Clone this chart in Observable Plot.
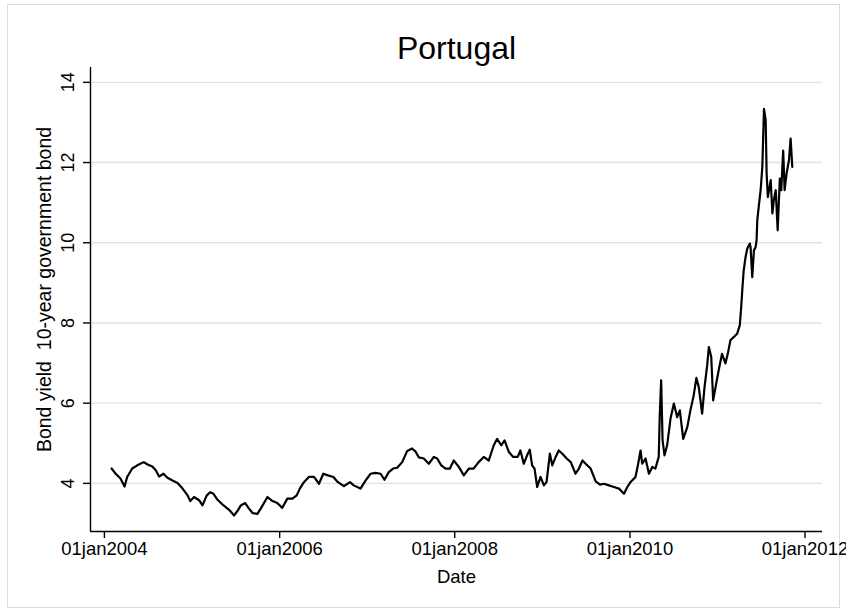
<!DOCTYPE html>
<html>
<head>
<meta charset="utf-8">
<script src="https://cdn.jsdelivr.net/npm/d3@7"></script>
<script src="https://cdn.jsdelivr.net/npm/@observablehq/plot@0.6"></script>
<style>
  html, body { margin: 0; padding: 0; background: #fff; overflow: hidden; }
  #chart { width: 846px; height: 613px; }
</style>
</head>
<body>
<div id="chart"></div>
<script>
const chartTitle = "Portugal";
const yAxisLabel = "Bond yield\u00a0 10-year government bond";
const xAxisLabel = "Date";

const dates = [
  "2004-01-31","2004-02-17","2004-03-08","2004-03-25","2004-04-05","2004-04-26","2004-05-17","2004-06-13",
  "2004-06-29","2004-07-19","2004-08-03","2004-08-16","2004-09-03","2004-09-20","2004-10-11","2004-11-01",
  "2004-11-22","2004-12-13","2004-12-24","2005-01-09","2005-01-30","2005-02-13","2005-03-03","2005-03-17",
  "2005-03-31","2005-04-17","2005-05-12","2005-06-04","2005-06-25","2005-07-11","2005-07-23","2005-08-10",
  "2005-08-26","2005-09-10","2005-09-30","2005-10-14","2005-11-11","2005-12-02","2005-12-22","2006-01-12",
  "2006-02-02","2006-02-23","2006-03-13","2006-03-26","2006-04-12","2006-05-03","2006-05-24","2006-06-14",
  "2006-07-02","2006-07-21","2006-08-13","2006-09-01","2006-09-26","2006-10-21","2006-11-06","2006-12-04",
  "2006-12-25","2007-01-15","2007-02-05","2007-02-26","2007-03-14","2007-04-01","2007-04-19","2007-05-06",
  "2007-05-27","2007-06-17","2007-07-07","2007-07-21","2007-08-04","2007-08-25","2007-09-15","2007-10-06",
  "2007-10-20","2007-11-06","2007-11-24","2007-12-12","2007-12-28","2008-01-18","2008-02-08","2008-02-29",
  "2008-03-20","2008-04-10","2008-05-01","2008-05-22","2008-06-12","2008-06-26","2008-07-13","2008-07-27",
  "2008-08-14","2008-09-01","2008-09-20","2008-10-01","2008-10-15","2008-10-29","2008-11-09","2008-11-19",
  "2008-11-29","2008-12-10","2008-12-24","2009-01-07","2009-01-18","2009-02-01","2009-02-11","2009-02-25",
  "2009-03-10","2009-03-25","2009-04-12","2009-04-29","2009-05-19","2009-06-02","2009-06-17","2009-06-30",
  "2009-07-21","2009-08-11","2009-08-29","2009-09-15","2009-10-05","2009-10-26","2009-11-16","2009-12-07",
  "2009-12-21","2010-01-03","2010-01-24","2010-02-03","2010-02-14","2010-02-21","2010-03-07","2010-03-21",
  "2010-04-04","2010-04-17","2010-05-01","2010-05-05","2010-05-11","2010-05-17","2010-05-25","2010-06-05",
  "2010-06-19","2010-07-03","2010-07-17","2010-07-28","2010-08-11","2010-08-28","2010-09-10","2010-09-24",
  "2010-10-05","2010-10-15","2010-10-29","2010-11-08","2010-11-19","2010-11-26","2010-12-06","2010-12-14",
  "2010-12-24","2011-01-06","2011-01-20","2011-02-03","2011-02-13","2011-02-24","2011-03-10","2011-03-24",
  "2011-04-04","2011-04-10","2011-04-14","2011-04-20","2011-04-28","2011-05-05","2011-05-16","2011-05-19",
  "2011-05-26","2011-06-02","2011-06-09","2011-06-13","2011-06-16","2011-06-23","2011-06-30","2011-07-07",
  "2011-07-14","2011-07-21","2011-07-25","2011-07-30","2011-08-11","2011-08-18","2011-08-24","2011-09-01",
  "2011-09-09","2011-09-18","2011-09-24","2011-10-02","2011-10-08","2011-10-16","2011-10-26","2011-11-02",
  "2011-11-09"
];

const yields = [
  4.37,4.24,4.12,3.92,4.16,4.37,4.45,4.53,
  4.47,4.42,4.32,4.17,4.24,4.14,4.07,4.01,
  3.87,3.70,3.56,3.66,3.58,3.45,3.70,3.78,
  3.74,3.59,3.45,3.34,3.20,3.33,3.45,3.51,
  3.37,3.26,3.24,3.37,3.66,3.56,3.51,3.39,
  3.62,3.62,3.70,3.87,4.03,4.16,4.16,3.99,
  4.24,4.20,4.16,4.03,3.93,4.03,3.95,3.87,
  4.07,4.24,4.26,4.24,4.09,4.28,4.37,4.39,
  4.53,4.81,4.87,4.80,4.65,4.62,4.49,4.66,
  4.62,4.45,4.37,4.37,4.57,4.41,4.20,4.37,
  4.37,4.53,4.66,4.57,4.95,5.11,4.95,5.07,
  4.78,4.66,4.66,4.82,4.49,4.70,4.84,4.45,
  4.37,3.91,4.16,3.95,4.03,4.74,4.45,4.66,
  4.82,4.74,4.62,4.53,4.24,4.37,4.57,4.49,
  4.37,4.05,3.97,3.99,3.95,3.91,3.87,3.74,
  3.91,4.03,4.16,4.45,4.82,4.49,4.62,4.24,
  4.41,4.37,4.66,5.65,6.57,5.07,4.70,4.95,
  5.61,5.99,5.65,5.82,5.11,5.40,5.82,6.20,
  6.63,6.40,5.74,6.40,6.94,7.40,7.15,6.07,
  6.40,6.82,7.23,6.99,7.23,7.57,7.65,7.73,
  7.94,8.40,8.78,9.29,9.64,9.85,9.98,9.89,
  9.14,9.81,9.89,10.06,10.56,10.95,11.31,11.89,
  13.34,13.05,11.72,11.14,11.56,10.73,11.06,11.31,
  10.31,11.60,11.31,12.30,11.31,11.72,12.05,12.60,
  11.89
];

const yTicks = [4, 6, 8, 10, 12, 14];
const xTicks = ["2004-01-01", "2006-01-01", "2008-01-01", "2010-01-01", "2012-01-01"];
const xTickLabels = ["01jan2004", "01jan2006", "01jan2008", "01jan2010", "01jan2012"];
const xDomain = ["2003-11-04", "2012-03-14"];
const yDomain = [2.8, 14.37];

const data = dates.map((d, i) => ({date: new Date(d), value: yields[i]}));
const xTickDates = xTicks.map(d => new Date(d));
const xDom = xDomain.map(d => new Date(d));
const labelOf = new Map(xTickDates.map((d, i) => [+d, xTickLabels[i]]));

const font = "'Liberation Sans', Arial, Helvetica, sans-serif";

const chart = Plot.plot({
  width: 846,
  height: 613,
  marginLeft: 90,
  marginRight: 24,
  marginTop: 67,
  marginBottom: 82,
  style: {fontFamily: font, fontSize: "18px", background: "#fff", color: "#000", overflow: "visible"},
  x: {type: "utc", domain: xDom},
  y: {domain: yDomain},
  marks: [
    Plot.gridY(yTicks, {stroke: "#e2e2e2", strokeOpacity: 1, strokeWidth: 1.4}),
    Plot.ruleX([xDom[0]], {stroke: "#000", strokeWidth: 1.4}),
    Plot.ruleY([yDomain[0]], {stroke: "#000", strokeWidth: 1.4}),
    Plot.axisY(yTicks, {tickSize: 7, tickFormat: () => "", label: null, stroke: "#000", strokeWidth: 1.4}),
    Plot.text(yTicks, {y: d => d, text: d => String(d), frameAnchor: "left", rotate: -90, dx: -22,
      textAnchor: "middle", lineAnchor: "middle", fontSize: 18, fill: "#000"}),
    Plot.axisX(xTickDates, {tickSize: 7, tickPadding: 3, tickFormat: d => labelOf.get(+d), label: null,
      stroke: "#000", strokeWidth: 1.4, fontSize: 18.5, fill: "#000"}),
    Plot.line(data, {x: "date", y: "value", stroke: "#000", strokeWidth: 2.2}),
    Plot.text([chartTitle], {frameAnchor: "top", dy: -19, lineAnchor: "middle", fontSize: 32, fill: "#000"}),
    Plot.text([yAxisLabel], {frameAnchor: "left", dx: -46, dy: -10, rotate: -90, textAnchor: "middle",
      lineAnchor: "middle", fontSize: 19.5, fill: "#000"}),
    Plot.text([xAxisLabel], {frameAnchor: "bottom", dy: 46, lineAnchor: "middle", fontSize: 18.5, fill: "#000"})
  ]
});

// light graph-region outline
d3.select(chart).insert("rect", ":first-child")
  .attr("x", 7.5).attr("y", 4.5).attr("width", 832).attr("height", 603)
  .attr("fill", "none").attr("stroke", "#dcdcdc").attr("stroke-width", 1);

document.getElementById("chart").appendChild(chart);
</script>
</body>
</html>
